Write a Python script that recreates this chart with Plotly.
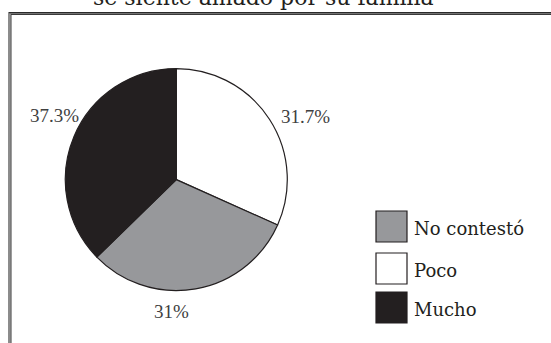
import plotly.graph_objects as go

W, H = 551, 343

# Survey answers and their shares (%)
labels = ["Poco", "No contestó", "Mucho"]
values = [31.7, 31.0, 37.3]
colors = {"Poco": "#ffffff", "No contestó": "#97989b", "Mucho": "#231f20"}
legend_order = ["No contestó", "Poco", "Mucho"]
title_text = "se siente amado por su familia"

INK = "#231f20"
SERIF = "DejaVu Serif"
LIGHT_SERIF = "Liberation Serif"


def px(x):
    return x / W


def py(y):
    return 1 - y / H


# Pie geometry in pixels
cx, cy, r = 176.3, 179.6, 111.0

fig = go.Figure()
fig.add_trace(go.Pie(
    labels=labels,
    values=values,
    sort=False,
    direction="clockwise",
    rotation=0,
    marker=dict(colors=[colors[l] for l in labels], line=dict(color=INK, width=1.2)),
    textinfo="none",
    hoverinfo="label+percent",
    showlegend=False,
    domain=dict(x=[px(cx - r), px(cx + r)], y=[py(cy + r), py(cy - r)]),
))

shapes = []
annotations = []

# Double frame that runs off the right and bottom edges
shapes.append(dict(type="rect", xref="paper", yref="paper",
                   x0=px(9.3), x1=px(600), y0=py(13.3), y1=py(400),
                   line=dict(color="#8c8c8c", width=2.6), fillcolor="rgba(0,0,0,0)"))
shapes.append(dict(type="rect", xref="paper", yref="paper",
                   x0=px(11), x1=px(600), y0=py(14.5), y1=py(400),
                   line=dict(color="#3a3a3a", width=1), fillcolor="rgba(0,0,0,0)"))
shapes.append(dict(type="line", xref="paper", yref="paper",
                   x0=px(9), x1=px(600), y0=py(12.6), y1=py(12.6),
                   line=dict(color="#2a2a2a", width=1.2)))

# Percentage labels around the pie
label_pos = {"Mucho": (54.5, 116), "Poco": (305, 116.3), "No contestó": (171.5, 311)}
for lab, val in zip(labels, values):
    x, y = label_pos[lab]
    annotations.append(dict(text=f"{val:g}%", x=px(x), y=py(y), xref="paper", yref="paper",
                            showarrow=False, xanchor="center", yanchor="middle",
                            font=dict(family=LIGHT_SERIF, size=19, color="#404040")))

# Legend built from square swatches
box = 31
box_tops = [211, 253, 292]
for lab, top in zip(legend_order, box_tops):
    shapes.append(dict(type="rect", xref="paper", yref="paper",
                       x0=px(376), x1=px(376 + box), y0=py(top + box), y1=py(top),
                       line=dict(color=INK, width=1.2), fillcolor=colors[lab]))
    annotations.append(dict(text=lab, x=px(412), y=py(top + box / 2 + 1.5), xref="paper", yref="paper",
                            showarrow=False, xanchor="left", yanchor="middle",
                            font=dict(family=SERIF, size=18, color=INK)))

# Title, partly above the visible area
annotations.append(dict(text=title_text, x=px(263), y=py(12.5), xref="paper", yref="paper",
                        showarrow=False, xanchor="center", yanchor="bottom",
                        font=dict(family=SERIF, size=22, color=INK)))

fig.update_layout(
    width=W, height=H,
    margin=dict(l=0, r=0, t=0, b=0),
    paper_bgcolor="white", plot_bgcolor="white",
    shapes=shapes, annotations=annotations,
)

fig.write_html("out.html")
